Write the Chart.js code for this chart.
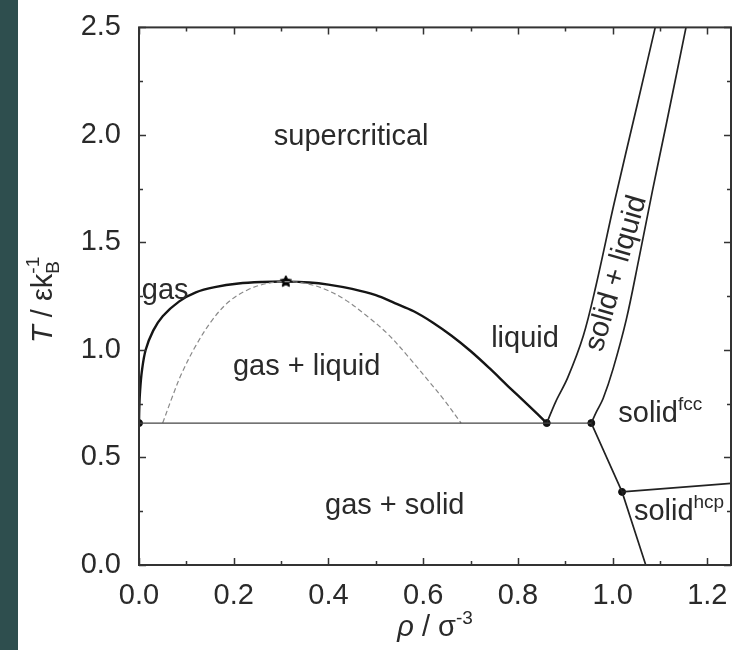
<!DOCTYPE html>
<html>
<head>
<meta charset="utf-8">
<script src="https://cdn.jsdelivr.net/npm/chart.js@4"></script>
<style>
  html, body { margin: 0; padding: 0; background: #fff; }
  canvas { display: block; }
</style>
</head>
<body>
<canvas id="phaseChart" width="738" height="650"></canvas>
<script>
// axis ticks
var rhoTicks = [0.0, 0.2, 0.4, 0.6, 0.8, 1.0, 1.2];
var tempTicks = [0.0, 0.5, 1.0, 1.5, 2.0, 2.5];

// vapour-liquid coexistence curve
var binodalRho = [0.0, 0.0005, 0.002, 0.006, 0.014, 0.03, 0.05, 0.085, 0.12, 0.16, 0.21, 0.26, 0.31,
                  0.36, 0.40, 0.45, 0.50, 0.54, 0.58, 0.62, 0.66, 0.70, 0.74, 0.78, 0.82, 0.861];
var binodalT = [0.66, 0.72, 0.80, 0.90, 1.0, 1.09, 1.157, 1.226, 1.268, 1.292, 1.309, 1.316, 1.318,
                1.314, 1.304, 1.284, 1.255, 1.218, 1.18, 1.128, 1.066, 0.995, 0.915, 0.83, 0.747, 0.66];

// spinodal (dashed)
var spinodalRho = [0.05, 0.07, 0.09, 0.12, 0.155, 0.19, 0.23, 0.27, 0.31, 0.35, 0.39, 0.435, 0.48, 0.525, 0.57, 0.61, 0.645, 0.68];
var spinodalT = [0.66, 0.78, 0.89, 1.02, 1.14, 1.225, 1.28, 1.309, 1.318, 1.31, 1.285, 1.234, 1.16, 1.075, 0.965, 0.86, 0.765, 0.66];

// freezing line (liquid side) and melting line (solid side)
var freezeRho = [0.861, 0.88, 0.905, 0.938, 0.965, 1.003, 1.052, 1.09];
var freezeT = [0.66, 0.76, 0.87, 1.065, 1.3, 1.68, 2.14, 2.5];
var meltRho = [0.955, 0.966, 0.98, 1.001, 1.029, 1.055, 1.084, 1.113, 1.155];
var meltT = [0.66, 0.713, 0.774, 0.912, 1.142, 1.418, 1.739, 2.046, 2.5];

// triple line
var tripleRho = [0.0, 0.955];
var tripleT = [0.66, 0.66];

// fcc / hcp boundaries
var fccHcpRho = [0.955, 1.02, 1.07];
var fccHcpT = [0.66, 0.34, 0.0];
var hcpTopRho = [1.02, 1.25];
var hcpTopT = [0.34, 0.38];

// special points
var dotRho = [0.0, 0.861, 0.955, 1.02];
var dotT = [0.66, 0.66, 0.66, 0.34];
var criticalRho = [0.31];
var criticalT = [1.318];

// region labels
var regionText = ['supercritical', 'gas', 'gas + liquid', 'liquid', 'solid + liquid', 'solid', 'solid', 'gas + solid'];
var regionSup = ['', '', '', '', '', 'fcc', 'hcp', ''];
var regionRho = [0.448, 0.006, 0.354, 0.815, 1.008, 1.012, 1.045, 0.54];
var regionT = [1.954, 1.235, 0.883, 1.016, 1.356, 0.667, 0.211, 0.239];

var FONT = "'Liberation Sans', Arial, sans-serif";
var TXT = '#2a2a2a';

function pts(xs, ys) {
    return xs.map(function (x, i) { return { x: x, y: ys[i] }; });
}

function lineSet(xs, ys, color, width, extra) {
    var ds = {
        data: pts(xs, ys),
        showLine: true,
        borderColor: color,
        borderWidth: width,
        pointRadius: 0,
        fill: false,
        tension: 0.35
    };
    return Object.assign(ds, extra || {});
}

// filled five point star for the critical point
function makeStar(r) {
    var c = document.createElement('canvas');
    c.width = c.height = r * 2 + 2;
    var g = c.getContext('2d');
    g.fillStyle = '#000';
    g.strokeStyle = '#000';
    g.lineWidth = 1;
    g.beginPath();
    for (var i = 0; i < 10; i++) {
        var rad = i % 2 === 0 ? r : r * 0.5;
        var ang = -Math.PI / 2 + i * Math.PI / 5;
        var px = r + 1 + rad * Math.cos(ang), py = r + 1 + rad * Math.sin(ang);
        if (i === 0) g.moveTo(px, py); else g.lineTo(px, py);
    }
    g.closePath();
    g.fill();
    g.stroke();
    return c;
}

function drawParts(ctx, parts, cx, y) {
    var widths = parts.map(function (p) { ctx.font = p[0] + FONT; return ctx.measureText(p[1]).width; });
    var total = 0;
    widths.forEach(function (w, i) { if (!parts[i][3]) total += w; });
    var x = cx - total / 2, prevX = x;
    parts.forEach(function (p, i) {
        ctx.font = p[0] + FONT;
        if (p[3]) {
            // stacked on top of previous part (sub + superscript)
            ctx.fillText(p[1], prevX, y + p[2]);
        } else {
            ctx.fillText(p[1], x, y + p[2]);
            prevX = x;
            x += widths[i];
        }
    });
}

var frame = {
    id: 'frame',
    beforeDraw: function (chart) {
        var ctx = chart.ctx;
        ctx.save();
        ctx.fillStyle = '#2e4e4e';
        ctx.fillRect(0, 0, 18, chart.height);
        ctx.restore();
    },
    afterDatasetsDraw: function (chart) {
        var ctx = chart.ctx, a = chart.chartArea;
        var xs = chart.scales.x, ys = chart.scales.y;
        ctx.save();
        ctx.strokeStyle = '#333';
        ctx.lineWidth = 1.5;

        // inward ticks, major and minor
        ctx.beginPath();
        for (var v = 0; v <= 1.25001; v += 0.1) {
            var px = Math.round(xs.getPixelForValue(v)) + 0.5;
            var len = Math.abs(Math.round(v * 10) % 2) === 0 ? 7 : 4;
            ctx.moveTo(px, a.bottom); ctx.lineTo(px, a.bottom - len);
            ctx.moveTo(px, a.top); ctx.lineTo(px, a.top + len);
        }
        for (var t = 0; t <= 2.5001; t += 0.25) {
            var py = Math.round(ys.getPixelForValue(t)) + 0.5;
            var l2 = Math.abs(Math.round(t * 4) % 2) === 0 ? 7 : 4;
            ctx.moveTo(a.left, py); ctx.lineTo(a.left + l2, py);
            ctx.moveTo(a.right, py); ctx.lineTo(a.right - l2, py);
        }
        ctx.stroke();

        ctx.lineWidth = 2;
        ctx.strokeRect(a.left, a.top, a.right - a.left, a.bottom - a.top);

        // region labels
        ctx.fillStyle = TXT;
        regionText.forEach(function (txt, i) {
            var x = xs.getPixelForValue(regionRho[i]);
            var y = ys.getPixelForValue(regionT[i]);
            ctx.save();
            ctx.translate(x, y);
            ctx.font = '29px ' + FONT;
            ctx.textBaseline = 'alphabetic';
            if (txt === 'solid + liquid') {
                ctx.rotate(-74 * Math.PI / 180);
                ctx.textAlign = 'center';
                ctx.textBaseline = 'middle';
                ctx.fillText(txt, 0, 0);
            } else if (regionSup[i]) {
                ctx.textAlign = 'left';
                ctx.fillText(txt, 0, 0);
                var w = ctx.measureText(txt).width;
                ctx.font = '19px ' + FONT;
                ctx.fillText(regionSup[i], w, -12);
            } else if (txt === 'gas') {
                ctx.textAlign = 'left';
                ctx.fillText(txt, 0, 0);
            } else {
                ctx.textAlign = 'center';
                ctx.fillText(txt, 0, 0);
            }
            ctx.restore();
        });

        // axis titles
        ctx.textAlign = 'left';
        ctx.textBaseline = 'alphabetic';
        drawParts(ctx, [['italic 29px ', '\u03C1', 0], ['29px ', ' / \u03C3', 0], ['19px ', '-3', -12]],
                  (a.left + a.right) / 2, 636);

        ctx.save();
        ctx.translate(52, 302);
        ctx.rotate(-Math.PI / 2);
        drawParts(ctx, [['italic 29px ', 'T', 0], ['29px ', ' / \u03B5k', 0], ['19px ', 'B', 7], ['19px ', '-1', -13, true]], 0, 0);
        ctx.restore();

        ctx.restore();
    }
};

var ctx = document.getElementById('phaseChart').getContext('2d');
var phaseChart = new Chart(ctx, {
    type: 'scatter',
    data: {
        datasets: [
            lineSet(tripleRho, tripleT, '#444', 1.2, { tension: 0 }),
            lineSet(spinodalRho, spinodalT, '#8a8a8a', 1.2, { borderDash: [5, 3] }),
            lineSet(binodalRho, binodalT, '#151515', 2.4),
            lineSet(freezeRho, freezeT, '#222', 1.7),
            lineSet(meltRho, meltT, '#222', 1.7),
            lineSet(fccHcpRho, fccHcpT, '#222', 1.7, { tension: 0 }),
            lineSet(hcpTopRho, hcpTopT, '#222', 1.7, { tension: 0 }),
            {
                data: pts(dotRho, dotT),
                pointRadius: 3.5,
                pointBackgroundColor: '#111',
                pointBorderColor: '#111',
                showLine: false
            },
            {
                data: pts(criticalRho, criticalT),
                pointStyle: makeStar(6),
                pointRadius: 6,
                showLine: false
            }
        ]
    },
    options: {
        responsive: false,
        animation: false,
        devicePixelRatio: 1,
        layout: { padding: { left: 0, top: 21, right: 4, bottom: 0 } },
        plugins: {
            legend: { display: false },
            tooltip: { enabled: false }
        },
        scales: {
            x: {
                type: 'linear',
                min: 0,
                max: 1.25,
                afterBuildTicks: function (scale) {
                    scale.ticks = rhoTicks.map(function (v) { return { value: v }; });
                },
                afterFit: function (scale) { scale.height = 85; },
                grid: { display: false },
                border: { display: false },
                ticks: {
                    padding: 6,
                    color: TXT,
                    font: { family: FONT, size: 29 },
                    maxRotation: 0,
                    callback: function (v) { return v.toFixed(1); }
                }
            },
            y: {
                type: 'linear',
                min: 0,
                max: 2.5,
                afterBuildTicks: function (scale) {
                    scale.ticks = tempTicks.map(function (v) { return { value: v }; });
                },
                afterFit: function (scale) { scale.width = 139; },
                grid: { display: false },
                border: { display: false },
                ticks: {
                    padding: 10,
                    color: TXT,
                    font: { family: FONT, size: 29 },
                    callback: function (v) { return v.toFixed(1); }
                }
            }
        }
    },
    plugins: [frame]
});
</script>
</body>
</html>
